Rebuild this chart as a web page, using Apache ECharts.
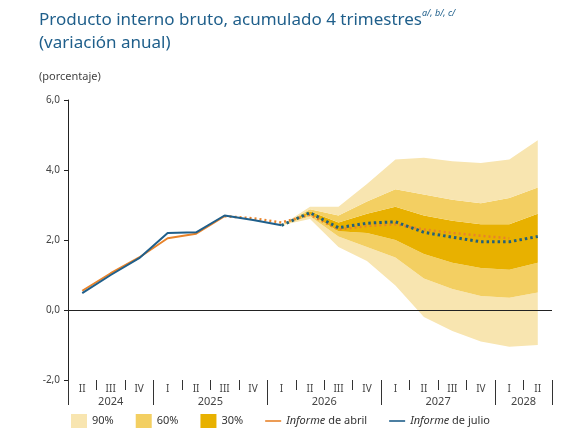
<!DOCTYPE html>
<html>
<head>
<meta charset="utf-8">
<script src="https://cdn.jsdelivr.net/npm/echarts@6/dist/echarts.min.js"></script>
<style>html,body{margin:0;padding:0;background:#fff}#c{width:576px;height:439px}</style>
</head>
<body>
<div id="c"></div>
<script>
// trimestres 2024 II .. 2028 II
const quarters = ["II","III","IV","I","II","III","IV","I","II","III","IV","I","II","III","IV","I","II"];
const yearLabels = {1.5: "2024", 5: "2025", 9: "2026", 13: "2027", 16: "2028"};
const yearBounds = [0, 3, 7, 11, 15];

const julioHist = [0.48, 1.0, 1.48, 2.2, 2.22, 2.7, 2.57, 2.42, null, null, null, null, null, null, null, null, null];
const julioProj = [null, null, null, null, null, null, null, 2.42, 2.78, 2.35, 2.48, 2.52, 2.22, 2.08, 1.95, 1.95, 2.1];
const abrilHist = [0.55, 1.05, 1.5, 2.05, 2.18, 2.68, null, null, null, null, null, null, null, null, null, null, null];
const abrilProj = [null, null, null, null, null, 2.68, 2.62, 2.5, 2.72, 2.3, 2.4, 2.45, 2.3, 2.2, 2.12, 2.05, null];

// bandas (desde 2026 I)
const lo90 = [2.42, 2.6, 1.8, 1.4, 0.7, -0.2, -0.6, -0.9, -1.05, -1.0];
const lo60 = [2.42, 2.68, 2.1, 1.8, 1.5, 0.9, 0.6, 0.4, 0.35, 0.5];
const lo30 = [2.42, 2.74, 2.25, 2.2, 2.0, 1.6, 1.35, 1.2, 1.15, 1.35];
const hi30 = [2.42, 2.82, 2.5, 2.75, 2.95, 2.7, 2.55, 2.45, 2.45, 2.75];
const hi60 = [2.42, 2.88, 2.7, 3.1, 3.45, 3.3, 3.15, 3.05, 3.2, 3.5];
const hi90 = [2.42, 2.95, 2.95, 3.6, 4.3, 4.35, 4.25, 4.2, 4.3, 4.85];
const bandStart = 7;

const pad = a => Array(bandStart).fill(null).concat(a);
const diff = (a, b) => pad(a.map((v, i) => +(v - b[i]).toFixed(3)));

const c90 = "#f8e5b0", c60 = "#f3cf62", c30 = "#e8b100";
const blue = "#1f5f8b", orange = "#e8832a";

const bandSeries = (name, data, color) => ({
  name, type: "line", stack: "fan", stackStrategy: "all", data,
  symbol: "none", lineStyle: { width: 0 }, areaStyle: { color, opacity: 1 },
  itemStyle: { color }, silent: true, z: 1
});

const chart = echarts.init(document.getElementById("c"));
chart.setOption({
  animation: false,
  textStyle: { fontFamily: "Noto Sans" },
  title: [{
    text: "{t|Producto interno bruto, acumulado 4 trimestres}{s|a/, b/, c/}\n{t|(variación anual)}",
    left: 34, top: 4,
    textStyle: { rich: {
      t: { fontSize: 17, color: blue, fontFamily: "Noto Sans", fontWeight: "normal", lineHeight: 23 },
      s: { fontSize: 9, color: blue, fontStyle: "italic", fontWeight: "normal", verticalAlign: "top", padding: [0, 0, 10, 0] }
    } }
  }, {
    text: "(porcentaje)", left: 34, top: 66,
    textStyle: { fontSize: 11, color: "#444", fontWeight: "normal" }
  }],
  grid: { left: 68, right: 24, top: 100, bottom: 59 },
  legend: {
    bottom: 6, left: 66, itemGap: 22, itemWidth: 16, itemHeight: 14,
    textStyle: { fontSize: 11, color: "#333", rich: { i: { fontStyle: "italic", fontSize: 11, color: "#333" } } },
    formatter: n => n.startsWith("Informe") ? "{i|Informe}" + n.slice(7) : n,
    data: [
      { name: "90%", icon: "rect" }, { name: "60%", icon: "rect" }, { name: "30%", icon: "rect" },
      { name: "Informe de abril", icon: "path://M0,0H30V3H0Z", itemStyle: { color: orange } },
      { name: "Informe de julio", icon: "path://M0,0H30V3H0Z", itemStyle: { color: blue } }
    ]
  },
  xAxis: [{
    type: "category", data: quarters, boundaryGap: true, position: "bottom",
    axisLine: { show: false, onZero: false },
    axisTick: { show: true, interval: 0, length: 10, inside: false, lineStyle: { color: "#333" } },
    axisLabel: { fontSize: 10, color: "#444", margin: 4, interval: 0 }
  }, {
    type: "category", data: quarters, boundaryGap: true, position: "bottom",
    axisLine: { show: false, onZero: false }, axisLabel: { show: false },
    axisTick: { show: true, length: 25, lineStyle: { color: "#333" },
      interval: i => yearBounds.includes(i) },
  }, {
    type: "value", min: 0, max: 17, interval: 0.5, position: "bottom",
    axisLine: { show: false, onZero: false }, axisTick: { show: false }, splitLine: { show: false },
    axisLabel: { fontSize: 11, color: "#444", margin: 16, formatter: v => yearLabels[v] || "" }
  }],
  yAxis: {
    type: "value", min: -2, max: 6, interval: 2,
    axisLine: { show: true, lineStyle: { color: "#222" } },
    axisTick: { show: true, length: 4, lineStyle: { color: "#222" } },
    splitLine: { show: false },
    axisLabel: { fontSize: 10, color: "#444", formatter: v => v.toFixed(1).replace(".", ",") }
  },
  series: [
    { type: "line", stack: "fan", stackStrategy: "all", data: pad(lo90), symbol: "none",
      lineStyle: { width: 0 }, silent: true, z: 1 },
    bandSeries("90%", diff(lo60, lo90), c90),
    bandSeries("60%", diff(lo30, lo60), c60),
    bandSeries("30%", diff(hi30, lo30), c30),
    bandSeries("60%", diff(hi60, hi30), c60),
    bandSeries("90%", diff(hi90, hi60), c90),
    { type: "line", data: [], markLine: { silent: true, symbol: "none", label: { show: false },
      lineStyle: { color: "#222", width: 1, type: "solid" }, data: [{ yAxis: 0 }] } },
    { name: "Informe de abril", type: "line", data: abrilHist, symbol: "none", color: orange,
      lineStyle: { width: 2, color: orange }, z: 3 },
    { name: "Informe de abril", type: "line", data: abrilProj, symbol: "none", color: orange,
      lineStyle: { width: 2.5, color: orange, type: [2, 3] }, z: 3 },
    { name: "Informe de julio", type: "line", data: julioHist, symbol: "none", color: blue,
      lineStyle: { width: 2, color: blue }, z: 4 },
    { name: "Informe de julio", type: "line", data: julioProj, symbol: "none", color: blue,
      lineStyle: { width: 3, color: "#23607a", type: [2.5, 3] }, z: 4 }
  ]
});
</script>
</body>
</html>
